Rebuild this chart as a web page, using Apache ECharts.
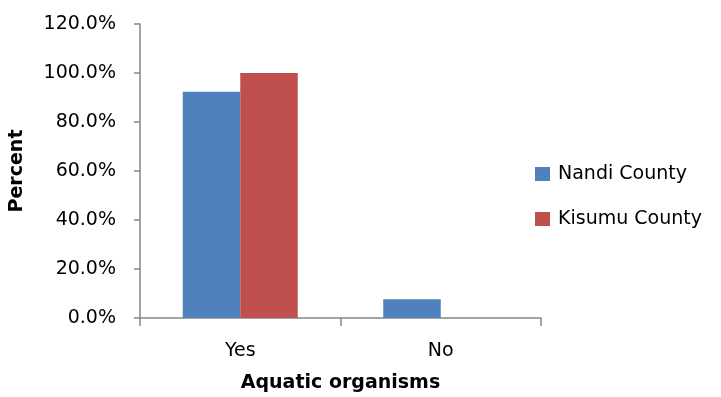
<!DOCTYPE html>
<html>
<head>
<meta charset="utf-8">
<script src="https://cdn.jsdelivr.net/npm/echarts@6/dist/echarts.min.js"></script>
<style>
  html, body { margin: 0; padding: 0; background: #fff; }
  #chart { width: 721px; height: 397px; }
</style>
</head>
<body>
<div id="chart"></div>
<script>
// Survey responses: awareness of aquatic organisms, by county
const categories = ['Yes', 'No'];
const nandiCounty = [92.3, 7.7];
const kisumuCounty = [100.0, 0.0];
const yTicks = { min: 0, max: 120, interval: 20 };

const FONT = '"DejaVu Sans", Verdana, sans-serif';
const axisGray = '#868686';

const chart = echarts.init(document.getElementById('chart'));
chart.setOption({
  animation: false,
  textStyle: { fontFamily: FONT },
  grid: { left: 140, right: 180, top: 24, bottom: 79, containLabel: false, outerBoundsMode: 'none' },
  legend: {
    orient: 'vertical',
    left: 535,
    top: 164,
    padding: 0,
    itemWidth: 15,
    itemHeight: 14,
    itemGap: 25,
    icon: 'rect',
    textStyle: { fontSize: 19, lineHeight: 20, color: '#000', fontFamily: FONT, padding: [0, 0, 0, 3] },
    data: ['Nandi County', 'Kisumu County']
  },
  xAxis: {
    type: 'category',
    data: categories,
    name: 'Aquatic organisms',
    nameLocation: 'middle',
    nameGap: 56,
    nameTextStyle: { fontSize: 19, fontWeight: 'bold', color: '#000' },
    axisLine: { lineStyle: { color: axisGray, width: 1.5 } },
    axisTick: { show: true, length: 8, lineStyle: { color: axisGray, width: 1.5 } },
    axisLabel: { fontSize: 19, color: '#000', margin: 24 }
  },
  yAxis: {
    type: 'value',
    min: yTicks.min,
    max: yTicks.max,
    interval: yTicks.interval,
    name: 'Percent',
    nameLocation: 'middle',
    nameGap: 113,
    nameTextStyle: { fontSize: 19, fontWeight: 'bold', color: '#000' },
    axisLine: { show: true, lineStyle: { color: axisGray, width: 1.5 } },
    axisTick: { show: true, length: 6, lineStyle: { color: axisGray, width: 1.5 } },
    axisLabel: {
      fontSize: 19, color: '#000', margin: 24,
      formatter: v => v.toFixed(1) + '%'
    },
    splitLine: { show: false }
  },
  series: [
    {
      name: 'Nandi County',
      type: 'bar',
      data: nandiCounty,
      barWidth: 57.5,
      barGap: '0%',
      itemStyle: { color: '#4F81BD' }
    },
    {
      name: 'Kisumu County',
      type: 'bar',
      data: kisumuCounty,
      barWidth: 57.5,
      barGap: '0%',
      itemStyle: { color: '#C0504D' }
    }
  ]
});
</script>
</body>
</html>
